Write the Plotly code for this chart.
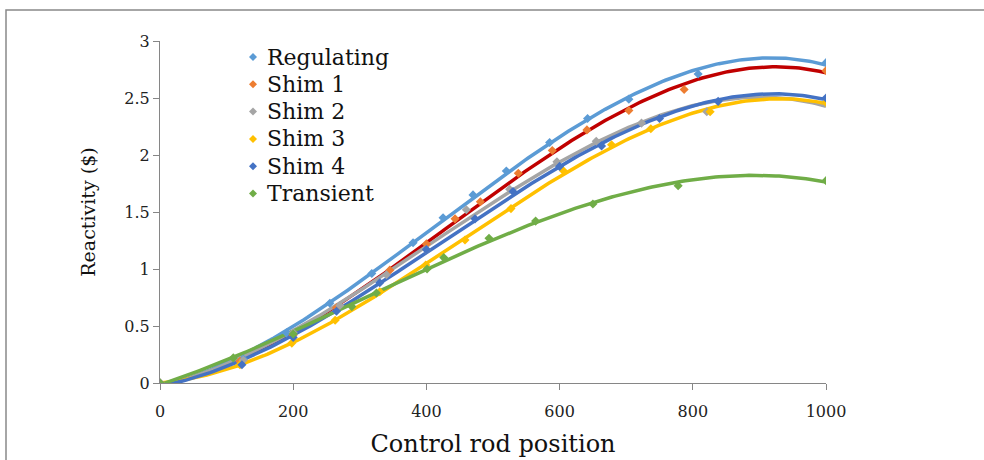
import numpy as np
import plotly.graph_objects as go

# ---- data ----
names = ["Regulating", "Shim 1", "Shim 2", "Shim 3", "Shim 4", "Transient"]
marker_colors = ["#5B9BD5", "#ED7D31", "#A5A5A5", "#FFC000", "#4472C4", "#70AD47"]
line_colors = ["#5B9BD5", "#C00000", "#A5A5A5", "#FFC000", "#4472C4", "#70AD47"]

reg_x = [0, 125, 190, 255, 318, 380, 425, 470, 520, 585, 642, 704, 808, 1000]
reg_y = [0, 0.21, 0.44, 0.70, 0.96, 1.23, 1.45, 1.65, 1.86, 2.11, 2.32, 2.49, 2.71, 2.81]

shim1_x = [0, 120, 200, 265, 345, 400, 443, 481, 538, 589, 641, 704, 787, 1000]
shim1_y = [0, 0.19, 0.42, 0.66, 0.99, 1.22, 1.44, 1.59, 1.84, 2.04, 2.22, 2.39, 2.575, 2.74]

shim2_x = [0, 125, 200, 270, 340, 400, 460, 525, 596, 655, 723, 821, 1000]
shim2_y = [0, 0.20, 0.44, 0.68, 0.95, 1.17, 1.52, 1.70, 1.94, 2.12, 2.28, 2.38, 2.46]

shim3_x = [0, 120, 198, 263, 330, 399, 458, 527, 606, 678, 737, 826, 1000]
shim3_y = [0, 0.16, 0.35, 0.55, 0.80, 1.035, 1.255, 1.53, 1.86, 2.09, 2.23, 2.38, 2.46]

shim4_x = [0, 123, 200, 265, 330, 400, 473, 530, 600, 663, 750, 838, 1000]
shim4_y = [0, 0.16, 0.40, 0.63, 0.88, 1.17, 1.44, 1.68, 1.90, 2.08, 2.32, 2.47, 2.50]

trans_x = [0, 110, 200, 288, 325, 401, 426, 494, 564, 650, 778, 1000]
trans_y = [0, 0.22, 0.43, 0.67, 0.79, 1.00, 1.10, 1.27, 1.42, 1.57, 1.73, 1.775]

series_x = [reg_x, shim1_x, shim2_x, shim3_x, shim4_x, trans_x]
series_y = [reg_y, shim1_y, shim2_y, shim3_y, shim4_y, trans_y]

x_ticks = [0, 200, 400, 600, 800, 1000]
y_ticks = [0, 0.5, 1, 1.5, 2, 2.5, 3]
y_tick_labels = ["0", "0.5", "1", "1.5", "2", "2.5", "3"]

FONT = "DejaVu Serif"

fig = go.Figure()

# polynomial (order 3) trendlines, as in the spreadsheet chart
for name, xs, ys, lc in zip(names, series_x, series_y, line_colors):
    coef = np.polyfit(xs, ys, 3)
    xf = np.linspace(min(xs), max(xs), 200)
    fig.add_trace(go.Scatter(x=xf, y=np.polyval(coef, xf), mode="lines",
                             line=dict(color=lc, width=3.5), name=name + " trend",
                             showlegend=False, hoverinfo="skip"))

for name, xs, ys, mc in zip(names, series_x, series_y, marker_colors):
    fig.add_trace(go.Scatter(x=xs, y=ys, mode="markers", name=name,
                             showlegend=False,
                             marker=dict(symbol="diamond", size=7, color=mc)))

W, H = 984, 460
L, R, T, B = 160, 158, 41, 77
pw, ph = W - L - R, H - T - B

def px(x):
    return (x - L) / pw

def py(y):
    return (H - B - y) / ph

# outer frame of the picture
fig.add_shape(type="rect", xref="paper", yref="paper",
              x0=px(6), x1=px(995), y0=py(10), y1=py(475),
              line=dict(color="#898989", width=1.5), layer="below")

# legend (tight rows as in the reference)
leg_marker_x, leg_text_x, leg_y0, leg_dy = 253, 265, 57, 27.3
for i, (name, mc) in enumerate(zip(names, marker_colors)):
    yc = leg_y0 + i * leg_dy
    s = 4
    fig.add_shape(type="path", xref="paper", yref="paper",
                  path=f"M {px(leg_marker_x - s)} {py(yc)} L {px(leg_marker_x)} {py(yc - s)} "
                       f"L {px(leg_marker_x + s)} {py(yc)} L {px(leg_marker_x)} {py(yc + s)} Z",
                  fillcolor=mc, line=dict(width=0))
    fig.add_annotation(x=px(leg_text_x), y=py(yc), xref="paper", yref="paper",
                       text=name, showarrow=False, xanchor="left", yanchor="middle",
                       font=dict(family=FONT, size=22, color="#111111"))

fig.update_layout(
    width=W, height=H,
    margin=dict(l=L, r=R, t=T, b=B, autoexpand=False),
    paper_bgcolor="white", plot_bgcolor="white",
    font=dict(family=FONT, color="#222222"),
    showlegend=False,
    xaxis=dict(range=[0, 1000], tickvals=x_ticks, showgrid=False, zeroline=False,
               automargin=False,
               showline=True, linecolor="#868686", linewidth=1,
               ticks="outside", ticklen=6, tickcolor="#868686",
               ticklabelstandoff=8,
               tickfont=dict(family=FONT, size=16, color="#222222"),
               title=dict(text="Control rod position", standoff=14,
                          font=dict(family=FONT, size=24, color="#111111"))),
    yaxis=dict(range=[0, 3], tickvals=y_ticks, ticktext=y_tick_labels,
               showgrid=False, zeroline=False, automargin=False,
               showline=True, linecolor="#868686", linewidth=1,
               ticks="outside", ticklen=6, tickcolor="#868686",
               tickfont=dict(family=FONT, size=16, color="#222222"),
               title=dict(text="Reactivity ($)", standoff=23,
                          font=dict(family=FONT, size=19, color="#111111"))),
)

fig.write_html("out.html")
